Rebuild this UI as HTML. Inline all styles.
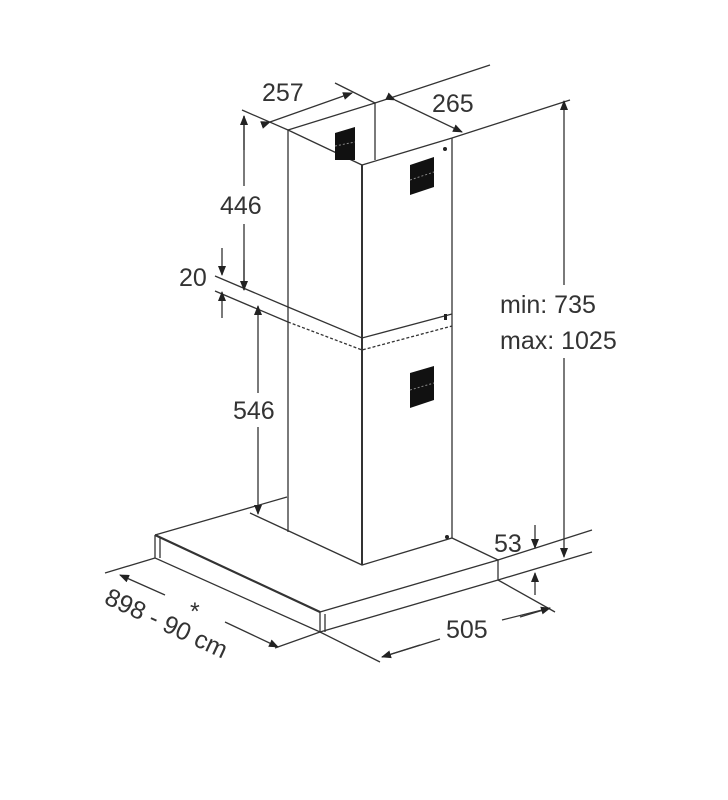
<!DOCTYPE html>
<html><head><style>body{margin:0;background:#fff}svg{display:block}text{font-family:"Liberation Sans",sans-serif;font-size:25px;fill:#333}</style></head><body>
<svg width="728" height="800" viewBox="0 0 728 800">
<defs><marker id="a" markerWidth="10" markerHeight="10" refX="9" refY="5" orient="auto" markerUnits="userSpaceOnUse" viewBox="0 0 10 10"><path d="M0,1 L10,5 L0,9z" fill="#222"/></marker></defs>
<g stroke="#333" stroke-width="1.3" fill="none">
<path d="M288,130 L375,103 L375,160"/>
<path d="M288,130 L362,165 L452,138"/>
<path d="M288,130 L288,532"/>
<path d="M362,165 L362,565" stroke-width="2"/>
<path d="M452,138 L452,538"/>
<path d="M215,276 L288,307 L362,338 L452,314"/>
<path d="M215,291 L288,322" />
<path d="M288,322 L362,350 L452,326" stroke-dasharray="3,2"/>
<path d="M155,535 L287,497"/>
<path d="M155,535 L320,612" stroke-width="2.2"/>
<path d="M155,535 L155,558 L320,632 L320,612 L498,560 L498,580 L320,632"/>
<path d="M160,537 L160,558 M325,614 L325,632"/>
<path d="M250,513 L362,565 L452,538 L498,560"/>
<path d="M242,110 L288,130 M335,83 L375,103"/>
<path d="M270,122 L352,93" marker-start="url(#a)" marker-end="url(#a)"/>
<path d="M375,103 L490,65 M452,138 L570,100"/>
<path d="M395,100 L462,132" marker-start="url(#a)" marker-end="url(#a)"/>
<path d="M244,116 L244,186 M244,224 L244,290" />
<path d="M244,150 L244,116" marker-end="url(#a)"/><path d="M244,260 L244,290" marker-end="url(#a)"/>
<path d="M222,248 L222,275" marker-end="url(#a)"/><path d="M222,318 L222,292" marker-end="url(#a)"/>
<path d="M258,393 L258,306" marker-end="url(#a)"/><path d="M258,427 L258,514" marker-end="url(#a)"/>
<path d="M564,285 L564,101" marker-end="url(#a)"/><path d="M564,358 L564,557" marker-end="url(#a)"/>
<path d="M498,560 L592,530 M498,580 L592,552"/>
<path d="M535,525 L535,548" marker-end="url(#a)"/><path d="M535,595 L535,573" marker-end="url(#a)"/>
<path d="M498,580 L555,612 M320,632 L380,662"/>
<path d="M382,657 L440,639 M502,620 L550,608" />
<path d="M420,645 L382,657" marker-end="url(#a)"/><path d="M520,617 L550,608" marker-end="url(#a)"/>
<path d="M105,573 L155,558 M275,648 L320,632"/>
<path d="M165,595 L120,575" marker-end="url(#a)"/><path d="M225,622 L278,647" marker-end="url(#a)"/>
</g>
<g fill="#111">
<path d="M335,133 L355,127 L355,160 L335,160z"/>
<path d="M410,165 L434,157 L434,187 L410,195z"/>
<path d="M410,373 L434,366 L434,400 L410,408z"/>
</g>
<g stroke="#888" stroke-width="1" stroke-dasharray="2,2"><path d="M335,146 L355,142 M410,180 L434,172 M410,390 L434,383"/></g>
<circle cx="445" cy="149" r="2" fill="#222"/>
<rect x="444" y="314" width="3" height="6" fill="#222"/>
<circle cx="447" cy="537" r="2" fill="#222"/>
<text x="262" y="101">257</text>
<text x="432" y="112">265</text>
<text x="220" y="214">446</text>
<text x="179" y="286">20</text>
<text x="233" y="419">546</text>
<text x="500" y="313">min: 735</text>
<text x="500" y="349">max: 1025</text>
<text x="494" y="552">53</text>
<text x="446" y="638">505</text>
<text x="190" y="620">*</text>
<text transform="translate(103,603) rotate(25)">898 - 90 cm</text>
</svg>
</body></html>
